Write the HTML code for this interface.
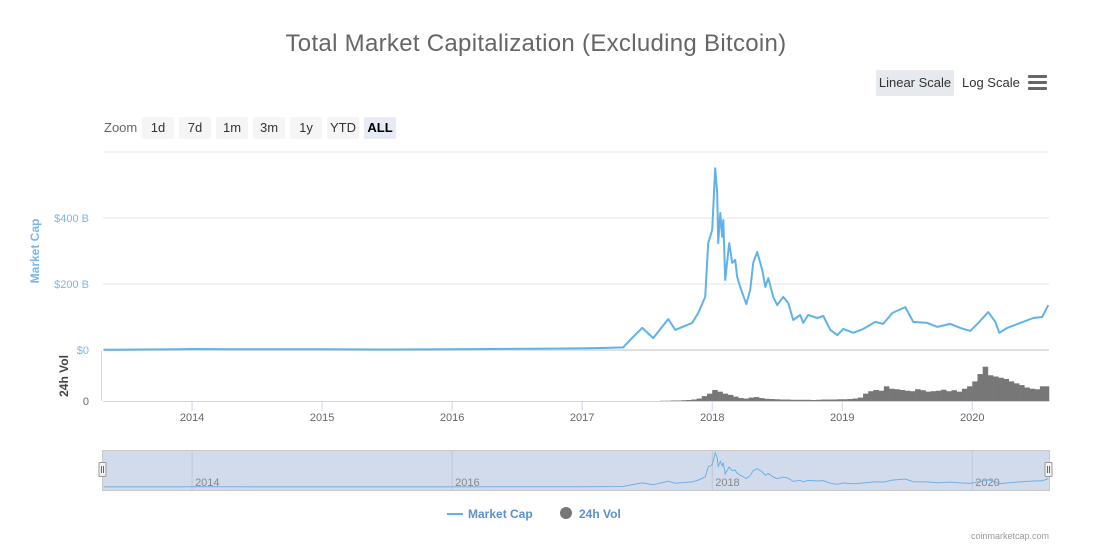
<!DOCTYPE html>
<html><head><meta charset="utf-8">
<style>
body{margin:0;background:#fff;font-family:"Liberation Sans",sans-serif;}
#wrap{position:relative;width:1114px;height:560px;overflow:hidden;}
.btn{position:absolute;top:117px;height:22px;width:32px;background:#f5f5f5;border-radius:2px;font-size:13px;color:#333;text-align:center;line-height:21px;}
</style></head><body>
<div id="wrap">
<div style="position:absolute;left:0;width:1072px;top:30px;text-align:center;font-size:24px;color:#666;letter-spacing:0.3px">Total Market Capitalization (Excluding Bitcoin)</div>
<div style="position:absolute;left:876px;top:70px;width:78px;height:26px;background:#e6e9ee;border-radius:2px;font-size:13px;color:#333;line-height:25px;text-align:center">Linear Scale</div>
<div style="position:absolute;left:962px;top:70px;height:26px;font-size:13px;color:#333;line-height:25px">Log Scale</div>
<div style="position:absolute;left:1028px;top:75px;width:19px;height:15px">
<div style="height:3px;background:#666;margin-bottom:3px;border-radius:1px"></div><div style="height:3px;background:#666;margin-bottom:3px;border-radius:1px"></div><div style="height:3px;background:#666;border-radius:1px"></div></div>
<div style="position:absolute;left:104px;top:120px;font-size:13px;color:#666">Zoom</div>
<div class="btn" style="left:142px">1d</div>
<div class="btn" style="left:179px">7d</div>
<div class="btn" style="left:216px">1m</div>
<div class="btn" style="left:253px">3m</div>
<div class="btn" style="left:290px">1y</div>
<div class="btn" style="left:327px">YTD</div>
<div class="btn" style="left:364px;background:#e6ebf5;font-weight:bold;color:#000">ALL</div>
<svg id="svg" width="1114" height="560" style="position:absolute;left:0;top:0"></svg>
</div>
<script>
const capDates=[2013.32,2013.6,2013.9,2014.0,2014.3,2014.6,2015.0,2015.5,2016.0,2016.3,2016.6,2016.985,2017.15,2017.315,2017.392,2017.462,2017.546,2017.662,2017.715,2017.846,2017.892,2017.946,2017.969,2018.0,2018.023,2018.038,2018.046,2018.062,2018.077,2018.085,2018.1,2018.131,2018.154,2018.177,2018.192,2018.215,2018.262,2018.292,2018.315,2018.346,2018.385,2018.408,2018.431,2018.469,2018.5,2018.546,2018.585,2018.623,2018.677,2018.7,2018.738,2018.808,2018.854,2018.908,2018.962,2019.008,2019.085,2019.162,2019.254,2019.315,2019.385,2019.485,2019.546,2019.654,2019.731,2019.831,2019.908,2019.985,2020.046,2020.123,2020.177,2020.208,2020.269,2020.369,2020.469,2020.538,2020.585];
const capValues=[1,1.5,2,3,2.5,2,2,1.5,2,3,4,5,6,8,40,67,36,94,61,82,112,161,324,364,551,475,324,415,343,394,212,324,264,273,221,191,139,182,264,297,242,191,218,161,136,161,142,91,106,82,106,97,103,61,45,64,52,64,85,79,112,130,85,82,70,79,67,58,82,115,85,52,67,82,97,100,136];
const volDates=[2017.60,2017.64,2017.68,2017.72,2017.76,2017.80,2017.84,2017.88,2017.92,2017.96,
2018.00,2018.04,2018.08,2018.12,2018.16,2018.20,2018.24,2018.28,2018.32,2018.36,2018.40,2018.44,2018.48,2018.52,2018.56,2018.60,2018.64,2018.68,2018.72,2018.76,2018.80,2018.84,2018.88,2018.92,2018.96,
2019.00,2019.04,2019.08,2019.12,2019.16,2019.20,2019.24,2019.28,2019.32,2019.36,2019.40,2019.44,2019.48,2019.52,2019.56,2019.60,2019.64,2019.68,2019.72,2019.76,2019.80,2019.84,2019.88,2019.92,2019.96,
2020.00,2020.04,2020.08,2020.12,2020.16,2020.20,2020.24,2020.28,2020.32,2020.36,2020.40,2020.44,2020.48,2020.52];
const volValues=[1,1,2,2,3,4,6,10,20,30,45,38,30,25,18,12,10,14,16,12,9,8,7,6,6,5,5,5,5,4,5,6,6,6,7,7,8,10,14,30,40,45,42,60,50,48,45,42,40,48,44,38,40,42,46,40,44,38,50,60,80,110,140,105,100,95,90,80,72,65,55,50,48,60];
const yTicks=[0,200,400,600];
const yTickLabels=["$0","$200 B","$400 B",""];
const xYears=[2014,2015,2016,2017,2018,2019,2020];
const navYears=[2014,2016,2018,2020];

const NS="http://www.w3.org/2000/svg";
const svg=document.getElementById('svg');
const X0=103,X1=1049,T0=2013.315,T1=2020.59;
const xS=t=>X0+(t-T0)/(T1-T0)*(X1-X0);
const yS=v=>350-v*0.33;
const vS=v=>401-v/200*49;
const nY=v=>487-v/550*34;
function el(tag,attrs,parent){const e=document.createElementNS(NS,tag);for(const k in attrs)e.setAttribute(k,attrs[k]);(parent||svg).appendChild(e);return e;}

yTicks.forEach((v,i)=>{
  const g=el('line',{x1:X0,x2:X1,y1:yS(v),y2:yS(v),stroke:i===0?'#e0e0e0':'#e6e6e6','stroke-width':i===0?2:1});
  
  
  if(yTickLabels[i]){const t=el('text',{x:89,y:yS(v)+4,'text-anchor':'end','font-size':11,fill:'#7cb5ec'});t.textContent=yTickLabels[i];
  
  }
});
let t=el('text',{x:0,y:0,'font-size':12,'font-weight':'bold',fill:'#7cb5ec','text-anchor':'middle',transform:'translate(39,251) rotate(-90)'});t.textContent='Market Cap';


t=el('text',{x:0,y:0,'font-size':12,'font-weight':'bold',fill:'#444','text-anchor':'middle',transform:'translate(68,376) rotate(-90)'});t.textContent='24h Vol';


t=el('text',{x:89,y:405,'text-anchor':'end','font-size':11,fill:'#666'});t.textContent='0';


let a=el('line',{x1:101.5,x2:101.5,y1:351,y2:401,stroke:'#ccd6eb'});



for(let i=0;i<volDates.length;i++){
  const xa=xS(volDates[i]),xb=i<volDates.length-1?xS(volDates[i+1]):X1;
  const r=el('rect',{x:xa,y:vS(volValues[i]),width:xb-xa+0.3,height:401-vS(volValues[i]),fill:'#777'});
  
  
}
a=el('line',{x1:X0,x2:X1,y1:401.5,y2:401.5,stroke:'#ccd6eb'});


xYears.forEach(y=>{
  const l=el('line',{x1:xS(y),x2:xS(y),y1:402,y2:411,stroke:'#ccd6eb'});
  
  
  const tx=el('text',{x:xS(y),y:421,'text-anchor':'middle','font-size':11,fill:'#666'});tx.textContent=y;
  
  
});
let d=capDates.map((t,i)=>(i?'L':'M')+xS(t).toFixed(1)+','+yS(capValues[i]).toFixed(1)).join('');
let p=el('path',{d:d,fill:'none',stroke:'#5fb3e8','stroke-width':2,'stroke-linejoin':'round'});



let nb=el('rect',{x:102.5,y:450.5,width:947,height:40,fill:'#d2dbec',stroke:'#c8c8c8'});


navYears.forEach(y=>{
  const l=el('line',{x1:xS(y),x2:xS(y),y1:451,y2:490,stroke:'#bfc7d6'});
  
  
  const tx=el('text',{x:xS(y)+3,y:486,'font-size':11,fill:'#888'});tx.textContent=y;
  
  
});
d=capDates.map((t,i)=>(i?'L':'M')+xS(t).toFixed(1)+','+nY(capValues[i]).toFixed(1)).join('');
p=el('path',{d:d,fill:'none',stroke:'#6fb0e3','stroke-width':1});


[102.5,1048.5].forEach(x=>{
  const h=el('rect',{x:x-3.5,y:462.5,width:7,height:14,fill:'#f2f2f2',stroke:'#999',rx:1});
  
  
  el('line',{x1:x-1,x2:x-1,y1:466,y2:473,stroke:'#666'});
  el('line',{x1:x+1,x2:x+1,y1:466,y2:473,stroke:'#666'});
});
let lg=el('g',{});


el('line',{x1:447,x2:463,y1:514,y2:514,stroke:'#5fb3e8','stroke-width':2},lg);
t=el('text',{x:468,y:518,'font-size':12,'font-weight':'bold',fill:'#5b8fd0'},lg);t.textContent='Market Cap';
lg=el('g',{});


el('circle',{cx:566,cy:513,r:6,fill:'#777'},lg);
t=el('text',{x:579,y:518,'font-size':12,'font-weight':'bold',fill:'#5b8fd0'},lg);t.textContent='24h Vol';
t=el('text',{x:1049,y:539,'text-anchor':'end','font-size':9,fill:'#999'});t.textContent='coinmarketcap.com';


</script>
</body></html>
